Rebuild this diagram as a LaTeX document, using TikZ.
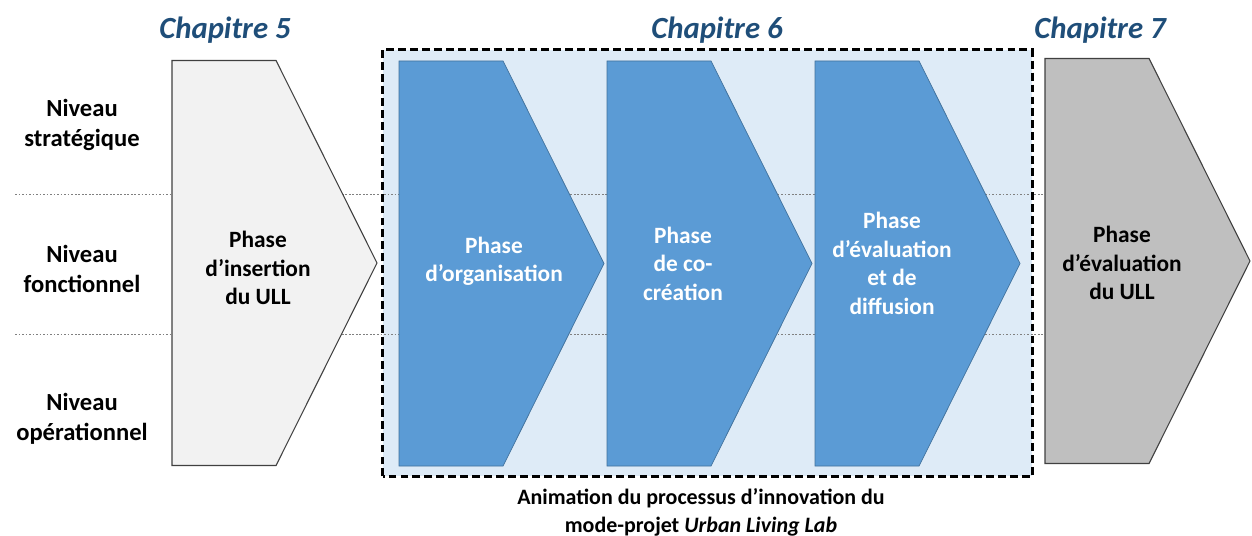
\documentclass[tikz,border=0pt]{standalone}
\usepackage{fontspec}
\setmainfont{Carlito}
\usepackage{tikz}
\usetikzlibrary{shapes.symbols, positioning, calc}

\definecolor{chapblue}{RGB}{31,78,121}
\definecolor{ullblue}{RGB}{91,155,213}
\definecolor{ullborder}{RGB}{65,113,156}
\definecolor{animbg}{RGB}{222,235,247}
\definecolor{lightgrey}{RGB}{242,242,242}
\definecolor{midgrey}{RGB}{191,191,191}

\begin{document}
\begin{tikzpicture}[
  chev/.style={signal, signal to=east, signal from=nowhere, signal pointer angle=127,
    minimum width=4.1cm, minimum height=8.1cm, inner sep=0pt, outer sep=0pt, anchor=west},
  bluechev/.style={chev, draw=ullborder, fill=ullblue, line width=0.4pt},
  greychev/.style={chev, draw=black!75, line width=0.6pt},
  phasetxt/.style={align=center, font=\bfseries\fontsize{13.3}{16.2}\selectfont},
  niveau/.style={align=center, font=\bfseries\fontsize{14}{17}\selectfont},
  chaptitle/.style={text=chapblue, font=\bfseries\itshape\fontsize{17.5}{21}\selectfont},
  levelsep/.style={gray, line width=0.4pt, dash pattern=on 1pt off 1pt}]

  \useasboundingbox (0,0) rectangle (25.04,10.70);

  % cadre du chapitre 6
  \node[fill=animbg, minimum width=12.98cm, minimum height=8.52cm, inner sep=0pt] (anim) at (14.15,5.44) {};

  % niveaux
  \draw[levelsep] (0.30,6.82) -- (23.50,6.82);
  \draw[levelsep] (0.30,4.02) -- (23.50,4.02);

  \node[niveau] (strat) at (1.64,8.20) {Niveau\\strat\'egique};
  \node[niveau] (fonct) at (1.64,5.32) {Niveau\\fonctionnel};
  \node[niveau] (opera) at (1.64,2.32) {Niveau\\op\'erationnel};

  % phases
  \node[greychev, fill=lightgrey] (ch-insert) at (3.44,5.44) {};
  \node[bluechev] (ch-orga) at (7.98,5.43) {};
  \node[bluechev] (ch-cocrea) at (12.14,5.43) {};
  \node[bluechev] (ch-diff) at (16.30,5.43) {};
  \node[greychev, fill=midgrey] (ch-eval) at (20.90,5.48) {};

  \node[phasetxt] (t-insert) at ([xshift=17.2mm, yshift=-1mm]ch-insert.west) {Phase\\d’insertion\\du ULL};
  \node[phasetxt, text=white] (t-orga) at ([xshift=19mm, yshift=0.4mm]ch-orga.west) {Phase\\d’organisation};
  \node[phasetxt, text=white] (t-cocrea) at ([xshift=15.2mm]ch-cocrea.west) {Phase\\de co-\\cr\'eation};
  \node[phasetxt, text=white] (t-diff) at ([xshift=15.4mm]ch-diff.west) {Phase\\d’\'evaluation\\et de\\diffusion};
  \node[phasetxt] (t-eval) at ([xshift=15.4mm, yshift=-0.4mm]ch-eval.west) {Phase\\d’\'evaluation\\du ULL};

  \draw[line width=1.7pt, dash pattern=on 4.5pt off 2.3pt] (anim.south west) rectangle (anim.north east);

  % chapitres
  \node[chaptitle] (chap5) at (4.50,10.10) {Chapitre 5};
  \node[chaptitle] (chap6) at (14.34,10.10) {Chapitre 6};
  \node[chaptitle] (chap7) at (22.00,10.10) {Chapitre 7};

  \node[phasetxt, font=\bfseries\fontsize{12.5}{16}\selectfont] (anim-caption) at (14.02,0.46)
    {Animation du processus d’innovation du\\mode-projet \textit{Urban Living Lab}};

\end{tikzpicture}
\end{document}
